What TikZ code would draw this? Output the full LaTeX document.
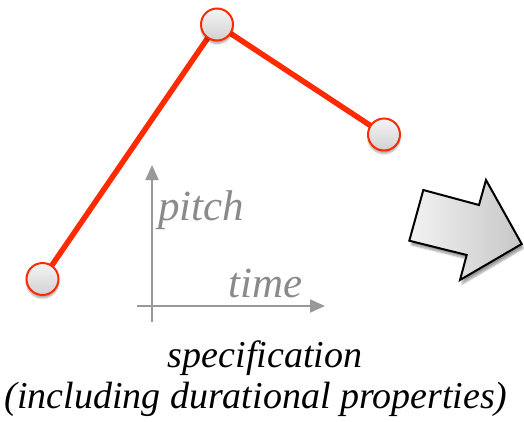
\documentclass[tikz,border=0pt]{standalone}
\usepackage{fontspec}
\setmainfont{Liberation Serif}[ItalicFont=Liberation Serif Italic]
\newfontfamily\capfont{Liberation Serif Italic}
\usetikzlibrary{arrows.meta,shadows.blur}
\definecolor{pred}{HTML}{FF2A00}
\definecolor{axgray}{HTML}{999999}
\definecolor{txgray}{HTML}{8A8A8A}
\tikzset{
  pt/.style={circle, draw=pred, line width=2pt, minimum size=32pt, inner sep=0pt,
    top color=white!96!black, bottom color=white!82!black,
    blur shadow={shadow xshift=0pt, shadow yshift=-3pt, shadow blur steps=6, shadow opacity=35}},
  redline/.style={draw=pred, line width=5.5pt},
  axis/.style={draw=axgray, line width=2pt, -{Triangle[length=15pt,width=13pt]}},
  axlabel/.style={text=txgray, font=\capfont\fontsize{43}{45}\selectfont, inner sep=0pt, anchor=base west},
  caption/.style={font=\capfont\fontsize{38}{41}\selectfont, inner sep=0pt, anchor=base},
  bigarrow/.style={draw=black, line width=2pt, line join=miter,
    left color=white!95!black, right color=white!78!black,
    blur shadow={shadow xshift=2pt, shadow yshift=-4pt, shadow blur steps=8, shadow opacity=40}}
}
\begin{document}
\begin{tikzpicture}[x=1pt,y=-1pt]
\useasboundingbox (0,0) rectangle (524,421);
% axes
\coordinate (vb) at (152,322);
\coordinate (vt) at (152,165);
\coordinate (hl) at (137,306);
\coordinate (hr) at (325,306);
\draw[axis] (vb) -- (vt);
\draw[axis] (hl) -- (hr);
\node[axlabel] (pitch) at (158,220) {pitch};
\node[axlabel] (time) at (228,297) {time};
% points
\coordinate (pa) at (42.5,279);
\coordinate (pb) at (217,24.5);
\coordinate (pc) at (384,134.5);
\draw[redline] (pa) -- (pb) -- (pc);
\node[pt] (a) at (pa) {};
\node[pt] (b) at (pb) {};
\node[pt] (c) at (pc) {};
% big arrow
\path[bigarrow] (423.3,190) -- (479,205) -- (486,180) -- (521.7,244) -- (460,280) -- (466.7,255) -- (409.3,240.7) -- cycle;
% caption
\node[caption] (cap1) at (265,367) {specification};
\node[caption] (cap2) at (256,408) {(including durational properties)};
\end{tikzpicture}
\end{document}
